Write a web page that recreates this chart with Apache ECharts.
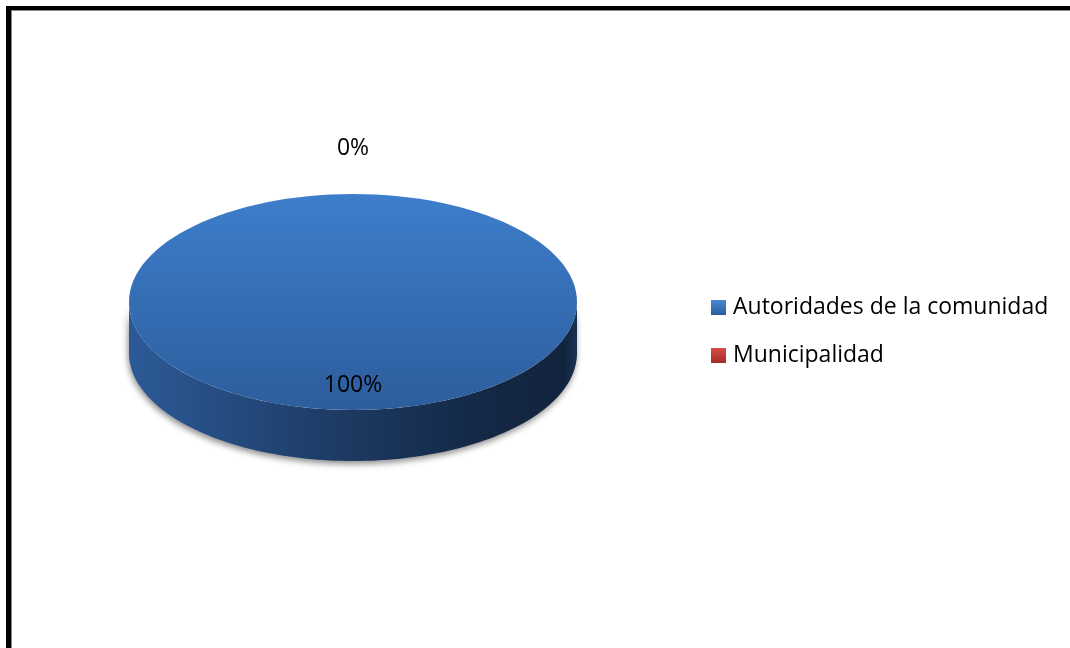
<!DOCTYPE html>
<html><head><meta charset="utf-8">
<script src="https://cdn.jsdelivr.net/npm/echarts@6/dist/echarts.min.js"></script>
<style>html,body{margin:0;padding:0;background:#fff}#c{width:1070px;height:648px}</style>
</head><body><div id="c"></div>
<script>
const categories = ['Autoridades de la comunidad', 'Municipalidad'];
const values = [100, 0];
const percentLabels = ['100%', '0%'];

const FONT = '"Open Sans", "Noto Sans", sans-serif';
const palette = [
  { top: ['#3d7ecb', '#2d5d9c'], side: ['#2c5a97', '#1f3f6b', '#142a48', '#12233d', '#1b3253'], legend: ['#4a88d4', '#2b5b98'] },
  { top: ['#d2443f', '#a22c29'], side: ['#9a2a27', '#7a1f1d', '#5a1614', '#4c1211', '#5f1a18'], legend: ['#d84a45', '#a52d2a'] }
];
const geom = { cx: 353, cy: 302, rx: 224, ry: 108, depth: 51 };

const total = values.reduce((a, b) => a + b, 0);
function startOf(i) { let s = 0; for (let k = 0; k < i; k++) s += values[k]; return s; }

function arcPts(a, b, cy, n) {
  const pts = [];
  for (let j = 0; j <= n; j++) {
    const t = a + (b - a) * j / n;
    pts.push([geom.cx + geom.rx * Math.cos(t), cy + geom.ry * Math.sin(t)]);
  }
  return pts;
}

function makeRender(i) {
  return function (params, api) {
    const v = values[i];
    const children = [];
    const c = palette[i];
    const t0 = -Math.PI / 2 + 2 * Math.PI * startOf(i) / total;
    const t1 = t0 + 2 * Math.PI * v / total;
    if (v > 0) {
      for (let k = -1; k <= 2; k++) {
        const a = Math.max(t0, 2 * Math.PI * k), b = Math.min(t1, 2 * Math.PI * k + Math.PI);
        if (a < b) {
          const upper = arcPts(a, b, geom.cy, 120);
          const lower = arcPts(b, a, geom.cy + geom.depth, 120);
          children.push({
            type: 'polygon',
            shape: { points: upper.concat(lower) },
            style: {
              fill: new echarts.graphic.LinearGradient(0, 0, 1, 0, [
                { offset: 0, color: c.side[0] },
                { offset: 0.4, color: c.side[1] },
                { offset: 0.75, color: c.side[2] },
                { offset: 0.97, color: c.side[3] },
                { offset: 1, color: c.side[4] }
              ]),
              shadowBlur: 6, shadowColor: 'rgba(0,0,0,0.45)', shadowOffsetX: -1, shadowOffsetY: 3
            }
          });
        }
      }
      const topFill = new echarts.graphic.LinearGradient(0, 0, 0, 1, [
        { offset: 0, color: c.top[0] }, { offset: 1, color: c.top[1] }
      ]);
      if (v === total) {
        children.push({ type: 'ellipse', shape: { cx: geom.cx, cy: geom.cy, rx: geom.rx, ry: geom.ry }, style: { fill: topFill } });
      } else {
        children.push({ type: 'polygon', shape: { points: [[geom.cx, geom.cy]].concat(arcPts(t0, t1, geom.cy, 120)) }, style: { fill: topFill } });
      }
    }
    const mid = (t0 + t1) / 2;
    const f = (v / total) < 0.05 ? 1.43 : 0.76;
    children.push({
      type: 'text',
      style: {
        text: percentLabels[i],
        x: geom.cx + geom.rx * f * Math.cos(mid) * (f > 1 ? 0.9 : 1),
        y: geom.cy + geom.ry * f * Math.sin(mid) + 1,
        align: 'center', verticalAlign: 'middle',
        fill: '#000', fontSize: 23, fontFamily: FONT
      }
    });
    return { type: 'group', children: children };
  };
}

const series = categories.map((name, i) => ({
  type: 'custom',
  name: name,
  coordinateSystem: 'none',
  silent: true,
  z: 2 + (values[i] === 0 ? 1 : 0),
  itemStyle: { color: new echarts.graphic.LinearGradient(0, 0, 0, 1, [
    { offset: 0, color: palette[i].legend[0] }, { offset: 1, color: palette[i].legend[1] }
  ]) },
  data: [[values[i]]],
  renderItem: makeRender(i)
}));

const chart = echarts.init(document.getElementById('c'), null, { renderer: 'canvas' });
chart.setOption({
  backgroundColor: '#fff',
  animation: false,
  legend: {
    orient: 'vertical',
    left: 711, top: 296, padding: 0,
    icon: 'rect', itemWidth: 15, itemHeight: 15, itemGap: 25,
    data: categories,
    selectedMode: false,
    textStyle: { fontSize: 23, lineHeight: 23, color: '#000', fontFamily: FONT, padding: [0, 0, 0, 2] }
  },
  graphic: [
    { type: 'rect', shape: { x: 6, y: 6, width: 1064, height: 4 }, style: { fill: '#000' } },
    { type: 'rect', shape: { x: 6, y: 6, width: 5, height: 642 }, style: { fill: '#000' } },
    { type: 'rect', shape: { x: 11, y: 10, width: 1059, height: 1 }, style: { fill: '#888' } },
    { type: 'rect', shape: { x: 11, y: 10, width: 1, height: 638 }, style: { fill: '#888' } }
  ],
  series: series
});
</script>
</body></html>
